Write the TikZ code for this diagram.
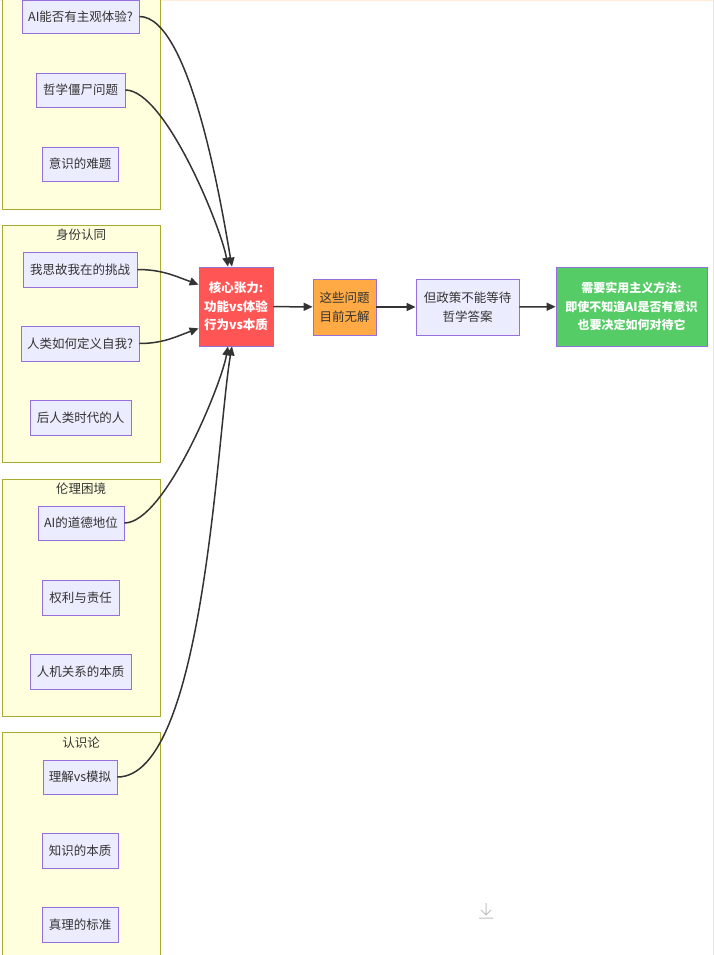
\documentclass[tikz,border=0pt]{standalone}
\usepackage{fontspec}
\setmainfont{Noto Sans CJK SC}
\usetikzlibrary{arrows.meta}
\definecolor{clf}{HTML}{FFFFDE}\definecolor{cld}{HTML}{AAAA33}
\definecolor{nf}{HTML}{ECECFF}\definecolor{nd}{HTML}{9370DB}
\definecolor{tx}{HTML}{333333}
\begin{document}
\begin{tikzpicture}[x=1pt,y=-1pt,
 cl/.style={draw=cld,fill=clf,line width=0.8pt},
 n/.style={draw=nd,fill=nf,line width=0.8pt,text=tx,font=\fontsize{12.5}{15}\selectfont,inner sep=0pt,align=center},
 ttl/.style={text=tx,font=\fontsize{12.5}{15}\selectfont},
 e/.style={draw=tx,line width=1.5pt,-{Triangle[length=9pt,width=8pt]}}]
\useasboundingbox (0,0) rectangle (714,955);
\fill[white] (0,0) rectangle (714,955);
\draw[color=orange!15,line width=1pt] (0,0.5)--(714,0.5);
\draw[color=gray!20] (713,0)--(713,955);
\path[cl] (2,-5) rectangle (160,209);
\path[cl] (2,225) rectangle (160,462);
\path[cl] (2,479) rectangle (160,716);
\path[cl] (2,732) rectangle (160,960);
\node[ttl] at (81,235) {身份认同};
\node[ttl] at (81,489) {伦理困境};
\node[ttl] at (81,743) {认识论};
\newcommand{\bx}[6]{\node[n,minimum width=#4-#2,minimum height=#5-#3] (#1) at ({(#2+#4)/2},{(#3+#5)/2}) {#6};}
\bx{a1}{22}{0}{139}{33}{AI能否有主观体验?}
\bx{a2}{36}{73}{125}{107}{哲学僵尸问题}
\bx{a3}{42}{147}{118}{181}{意识的难题}
\bx{b1}{23}{252}{137}{287}{我思故我在的挑战}
\bx{b2}{21}{326}{139}{361}{人类如何定义自我?}
\bx{b3}{30}{400}{131}{435}{后人类时代的人}
\bx{c1}{38}{506}{124}{540}{AI的道德地位}
\bx{c2}{42}{580}{119}{615}{权利与责任}
\bx{c3}{30}{654}{131}{689}{人机关系的本质}
\bx{d1}{43}{760}{117}{794}{理解vs模拟}
\bx{d2}{42}{833}{118}{868}{知识的本质}
\bx{d3}{42}{907}{118}{942}{真理的标准}
\node[n,fill={rgb,255:red,255;green,85;blue,85},text=white,minimum width=74,minimum height=79,font=\bfseries\fontsize{12.5}{18.5}\selectfont] (core) at (236,306.5) {核心张力:\\功能vs体验\\行为vs本质};
\node[n,fill={rgb,255:red,255;green,170;blue,68},minimum width=63,minimum height=56,font=\fontsize{12.5}{18.5}\selectfont] (o) at (344.5,307) {这些问题\\目前无解};
\node[n,minimum width=103,minimum height=56,font=\fontsize{12.5}{18.5}\selectfont] (p) at (467.5,307) {但政策不能等待\\哲学答案};
\node[n,fill={rgb,255:red,85;green,204;blue,102},text=white,minimum width=151,minimum height=79,font=\bfseries\fontsize{12}{18.5}\selectfont] (g) at (631.5,306.5) {需要实用主义方法:\\即使不知道AI是否有意识\\也要决定如何对待它};
\draw[e] (a1.east) to[out=0,in=100,looseness=0.5] ([xshift=-4]core.north);
\draw[e] (a2.east) to[out=0,in=100,looseness=0.5] ([xshift=-8]core.north);
\draw[e] (b1.east) to[out=0,in=160] ([yshift=-18]core.north west);
\draw[e] (b2.east) to[out=0,in=200] ([yshift=18]core.south west);
\draw[e] (c1.east) to[out=0,in=-100,looseness=0.5] ([xshift=-8]core.south);
\draw[e] (d1.east) to[out=0,in=-100,looseness=0.5] ([xshift=-4]core.south);
\draw[e] (core) -- (o);
\draw[e] (o) -- (p);
\draw[e] (p) -- (g);
\draw[gray!50,line width=1pt] (486,903)--(486,915) (481,910)--(486,915)--(491,910) (479,918)--(493,918);
\end{tikzpicture}
\end{document}
